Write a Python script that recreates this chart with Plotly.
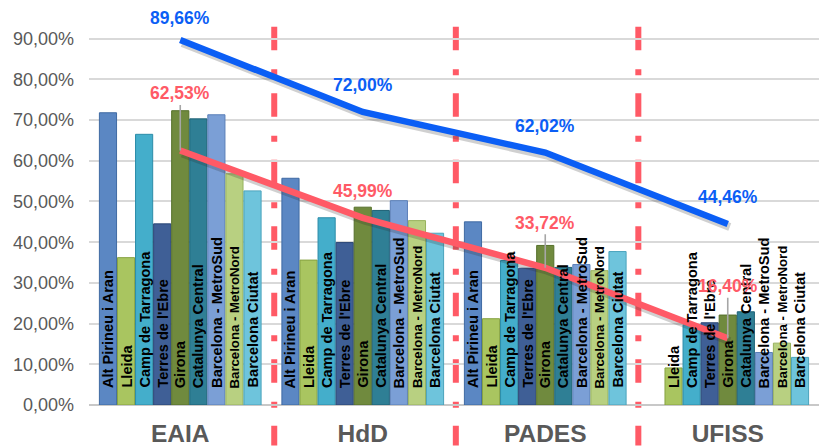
import plotly.graph_objects as go

# Programmes (x categories) and territorial areas (bars within each programme)
programs = ["EAIA", "HdD", "PADES", "UFISS"]
regions = [
    "Alt Pirineu i Aran",
    "Lleida",
    "Camp de Tarragona",
    "Terres de l'Ebre",
    "Girona",
    "Catalunya Central",
    "Barcelona - MetroSud",
    "Barcelona - MetroNord",
    "Barcelona Ciutat",
]

# Percentages per area, one value per programme (EAIA, HdD, PADES, UFISS)
alt_pirineu = [71.8, 55.7, 45.0, None]
lleida = [36.2, 35.6, 21.2, 9.1]
camp_tarragona = [66.5, 46.0, 35.5, 19.7]
terres_ebre = [44.5, 39.9, 33.6, 20.2]
girona = [72.3, 48.6, 39.2, 22.1]
catalunya_central = [70.3, 47.8, 33.8, 22.9]
bcn_metrosud = [71.3, 50.2, 34.5, 12.9]
bcn_metronord = [56.8, 45.3, 33.0, 15.2]
bcn_ciutat = [52.6, 42.2, 37.7, 11.7]

# Two summary lines across programmes
blue_line = [89.66, 72.00, 62.02, 44.46]
red_line = [62.53, 45.99, 33.72, 16.40]

# Y axis ticks and their labels
y_ticks = [0, 10, 20, 30, 40, 50, 60, 70, 80, 90]
y_tick_labels = ["0,00%", "10,00%", "20,00%", "30,00%", "40,00%",
                 "50,00%", "60,00%", "70,00%", "80,00%", "90,00%"]

series = [alt_pirineu, lleida, camp_tarragona, terres_ebre, girona,
          catalunya_central, bcn_metrosud, bcn_metronord, bcn_ciutat]
bar_colors = ["#5b87c3", "#a9c560", "#44aecb", "#3f5f96", "#708a3e",
              "#2f7f95", "#7b9fd6", "#b8d081", "#6ec4dc"]
edge_colors = ["#3f6aa3", "#86a240", "#2b8ca8", "#2a4675", "#55702a",
               "#1d6175", "#5b7fb8", "#98b25e", "#4aa3bc"]
label_sizes = [14.6, 14.6, 14.6, 14.6, 14.6, 14.6, 14.6, 13.2, 14.6]

FONT = "Arial, Liberation Sans, sans-serif"
SLOT = 0.099
BAR_W = 0.094
GREY = "#595959"
X_RANGE = [-0.5, 3.5]
Y_RANGE = [0, 99.5]
PLOT_W = 819 - 89
PLOT_H = 447 - 38


def pct(v):
    return f"{v:.2f}%".replace(".", ",")


fig = go.Figure()
annotations = []

for r, (name, vals) in enumerate(zip(regions, series)):
    xs, ys = [], []
    for c, v in enumerate(vals):
        if v is None:
            continue
        xpos = c + (r - 4) * SLOT
        xs.append(xpos)
        ys.append(v)
        annotations.append(dict(
            x=xpos, y=0, xref="x", yref="y", text=name, showarrow=False,
            textangle=-90, xanchor="center", yanchor="bottom", yshift=15,
            font=dict(family=FONT, size=label_sizes[r], color="#000000", weight="bold"),
        ))
    fig.add_trace(go.Bar(
        x=xs, y=ys, name=name, width=BAR_W,
        marker=dict(color=bar_colors[r], line=dict(color=edge_colors[r], width=1)),
        hoverinfo="skip", showlegend=False,
    ))

x_idx = list(range(len(programs)))

# Soft drop shadow under the two lines (drawn on a slightly offset overlay axis pair)
for vals in (blue_line, red_line):
    fig.add_trace(go.Scatter(
        x=x_idx, y=vals, mode="lines", xaxis="x2", yaxis="y2",
        line=dict(color="rgba(40,40,40,0.22)", width=8),
        hoverinfo="skip", showlegend=False,
    ))

fig.add_trace(go.Scatter(
    x=x_idx, y=blue_line, mode="lines", name="Indicador 1", xaxis="x3", yaxis="y3",
    line=dict(color="#0b5ef5", width=6.5), showlegend=False,
))
fig.add_trace(go.Scatter(
    x=x_idx, y=red_line, mode="lines", name="Indicador 2", xaxis="x3", yaxis="y3",
    line=dict(color="#ff5a66", width=6.5), showlegend=False,
))

# Value labels for the lines
blue_shift = [22, 27, 27, 27]
for c, v in enumerate(blue_line):
    annotations.append(dict(
        x=c, y=v, xref="x", yref="y", text=pct(v),
        showarrow=False, yshift=blue_shift[c],
        font=dict(family=FONT, size=17.5, color="#0b5ef5", weight="bold"),
    ))
red_offsets = [-57, -27, -45, -52]
red_leader = [True, False, True, True]
for c, v in enumerate(red_line):
    font = dict(family=FONT, size=17.5, color="#ff5a66", weight="bold")
    if red_leader[c]:
        annotations.append(dict(
            x=c, y=v, xref="x", yref="y", text=pct(v), showarrow=True,
            ax=0, ay=red_offsets[c], arrowhead=0, arrowwidth=1.6,
            arrowcolor="#a6a6a6", font=font,
        ))
    else:
        annotations.append(dict(
            x=c, y=v, xref="x", yref="y", text=pct(v), showarrow=False,
            yshift=-red_offsets[c], font=font,
        ))

# Dash-dot separators between programmes
shapes = []
for xb in [0.515, 1.51, 2.51]:
    shapes.append(dict(
        type="line", xref="x", yref="paper", x0=xb, x1=xb, y0=0.934, y1=-0.1,
        line=dict(color="#ff5a66", width=6, dash="23.5px,19px,6px,18px"),
        layer="below",
    ))

# Shadow offset: 2 px right, 3 px down
dx = 2 * (X_RANGE[1] - X_RANGE[0]) / PLOT_W
dy = 3 * (Y_RANGE[1] - Y_RANGE[0]) / PLOT_H

fig.update_layout(
    width=819, height=447,
    margin=dict(l=89, r=0, t=0, b=38),
    paper_bgcolor="white", plot_bgcolor="white",
    barmode="overlay",
    showlegend=False,
    annotations=annotations,
    shapes=shapes,
    font=dict(family=FONT, color=GREY),
    xaxis=dict(
        range=X_RANGE, tickvals=x_idx, ticktext=programs,
        tickfont=dict(family=FONT, size=24.5, color=GREY, weight="bold"),
        showgrid=False, zeroline=False, showline=False, ticks="",
        ticklabelstandoff=11,
    ),
    yaxis=dict(
        range=Y_RANGE, tickvals=y_ticks, ticktext=y_tick_labels,
        tickfont=dict(family=FONT, size=18, color=GREY),
        showgrid=True, gridcolor="#d9d9d9", gridwidth=1.5,
        zeroline=True, zerolinecolor="#c8c8c8", zerolinewidth=2,
        showline=False, ticks="", ticklabelstandoff=14,
    ),
    xaxis2=dict(overlaying="x", range=[X_RANGE[0] - dx, X_RANGE[1] - dx], visible=False),
    yaxis2=dict(overlaying="y", range=[Y_RANGE[0] + dy, Y_RANGE[1] + dy], visible=False),
    xaxis3=dict(overlaying="x", range=X_RANGE, visible=False),
    yaxis3=dict(overlaying="y", range=Y_RANGE, visible=False),
)

fig.write_html("out.html")
